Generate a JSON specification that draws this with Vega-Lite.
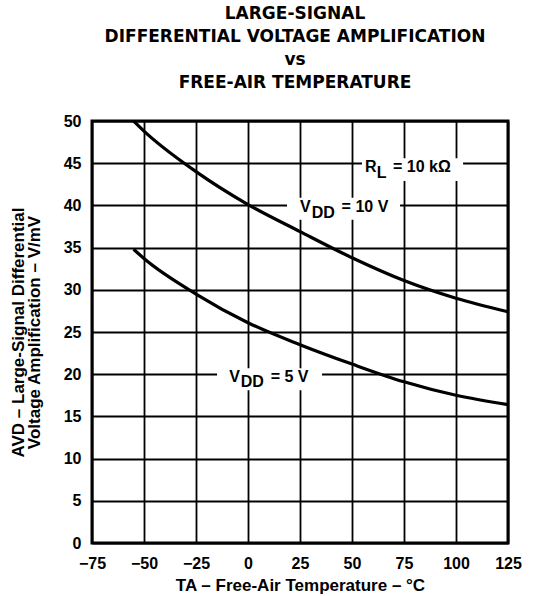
{
  "$schema": "https://vega.github.io/schema/vega-lite/v6.json",
  "width": 416,
  "height": 422,
  "autosize": {"type": "none"},
  "padding": {"left": 92, "top": 121, "right": 26, "bottom": 53},
  "background": "white",
  "title": {
    "text": ["LARGE-SIGNAL", "DIFFERENTIAL VOLTAGE AMPLIFICATION", "vs", "FREE-AIR TEMPERATURE"],
    "font": "DejaVu Sans",
    "fontSize": 17,
    "fontWeight": "bold",
    "color": "black",
    "lineHeight": 23,
    "anchor": "middle",
    "offset": 21,
    "dx": -5
  },
  "config": {
    "view": {"stroke": "black", "strokeWidth": 3},
    "font": "Liberation Sans"
  },
  "datasets": {
    "curves": [
      {"temp": -55, "avd": 50.0, "vdd": "10 V"},
      {"temp": -50, "avd": 48.8, "vdd": "10 V"},
      {"temp": -25, "avd": 44.0, "vdd": "10 V"},
      {"temp": 0, "avd": 40.1, "vdd": "10 V"},
      {"temp": 25, "avd": 36.9, "vdd": "10 V"},
      {"temp": 50, "avd": 33.8, "vdd": "10 V"},
      {"temp": 75, "avd": 31.1, "vdd": "10 V"},
      {"temp": 100, "avd": 29.0, "vdd": "10 V"},
      {"temp": 125, "avd": 27.4, "vdd": "10 V"},
      {"temp": -55, "avd": 34.8, "vdd": "5 V"},
      {"temp": -50, "avd": 33.7, "vdd": "5 V"},
      {"temp": -25, "avd": 29.5, "vdd": "5 V"},
      {"temp": 0, "avd": 26.1, "vdd": "5 V"},
      {"temp": 25, "avd": 23.5, "vdd": "5 V"},
      {"temp": 50, "avd": 21.2, "vdd": "5 V"},
      {"temp": 75, "avd": 19.1, "vdd": "5 V"},
      {"temp": 100, "avd": 17.5, "vdd": "5 V"},
      {"temp": 125, "avd": 16.4, "vdd": "5 V"}
    ],
    "boxes": [
      {"temp": 54.8, "temp2": 103.4, "avd": 42.9, "avd2": 45.6},
      {"temp": 18.75, "temp2": 73.1, "avd": 38.3, "avd2": 40.9},
      {"temp": -14.9, "temp2": 35.6, "avd": 18.1, "avd2": 20.7}
    ],
    "labels": [
      {"temp": 56.25, "avd": 44.0, "t": "R"},
      {"temp": 61.9, "avd": 43.25, "t": "L"},
      {"temp": 69.7, "avd": 44.0, "t": "= 10 kΩ"},
      {"temp": 25.0, "avd": 39.25, "t": "V"},
      {"temp": 30.6, "avd": 38.5, "t": "DD"},
      {"temp": 45.0, "avd": 39.25, "t": "= 10 V"},
      {"temp": -9.0, "avd": 19.1, "t": "V"},
      {"temp": -3.5, "avd": 18.5, "t": "DD"},
      {"temp": 10.9, "avd": 19.1, "t": "= 5 V"}
    ]
  },
  "layer": [
    {
      "data": {"name": "curves"},
      "mark": {"type": "line", "stroke": "black", "strokeWidth": 3.2, "interpolate": "monotone"},
      "encoding": {
        "x": {
          "field": "temp", "type": "quantitative",
          "scale": {"domain": [-75, 125], "nice": false, "zero": false},
          "axis": {
            "values": [-75, -50, -25, 0, 25, 50, 75, 100, 125],
            "grid": true, "gridColor": "black", "gridOpacity": 1, "gridWidth": 1.8,
            "ticks": false, "tickSize": 0, "domain": false,
            "labelFont": "Liberation Sans", "labelFontWeight": "bold", "labelFontSize": 16,
            "labelColor": "black", "labelPadding": 12, "labelFlush": false, "labelOverlap": false,
            "title": "TA – Free-Air Temperature – °C",
            "titleFont": "Liberation Sans", "titleFontWeight": "bold", "titleFontSize": 17,
            "titleColor": "black", "titlePadding": 6
          }
        },
        "y": {
          "field": "avd", "type": "quantitative",
          "scale": {"domain": [0, 50], "nice": false, "zero": false},
          "axis": {
            "values": [0, 5, 10, 15, 20, 25, 30, 35, 40, 45, 50],
            "grid": true, "gridColor": "black", "gridOpacity": 1, "gridWidth": 1.8,
            "ticks": false, "tickSize": 0, "domain": false,
            "labelFont": "Liberation Sans", "labelFontWeight": "bold", "labelFontSize": 16,
            "labelColor": "black", "labelPadding": 11, "labelFlush": false, "labelOverlap": false,
            "title": ["AVD – Large-Signal Differential", "Voltage Amplification – V/mV"],
            "titleFont": "Liberation Sans", "titleFontWeight": "bold", "titleFontSize": 17,
            "titleColor": "black", "titlePadding": 20, "titleLineHeight": 16
          }
        },
        "detail": {"field": "vdd", "type": "nominal"}
      }
    },
    {
      "data": {"name": "boxes"},
      "mark": {"type": "rect", "fill": "white"},
      "encoding": {
        "x": {"field": "temp", "type": "quantitative"},
        "x2": {"field": "temp2"},
        "y": {"field": "avd", "type": "quantitative"},
        "y2": {"field": "avd2"}
      }
    },
    {
      "data": {"name": "labels"},
      "mark": {"type": "text", "font": "Liberation Sans", "fontWeight": "bold", "fontSize": 16, "align": "left", "baseline": "alphabetic", "color": "black"},
      "encoding": {
        "x": {"field": "temp", "type": "quantitative"},
        "y": {"field": "avd", "type": "quantitative"},
        "text": {"field": "t", "type": "nominal"}
      }
    }
  ]
}
